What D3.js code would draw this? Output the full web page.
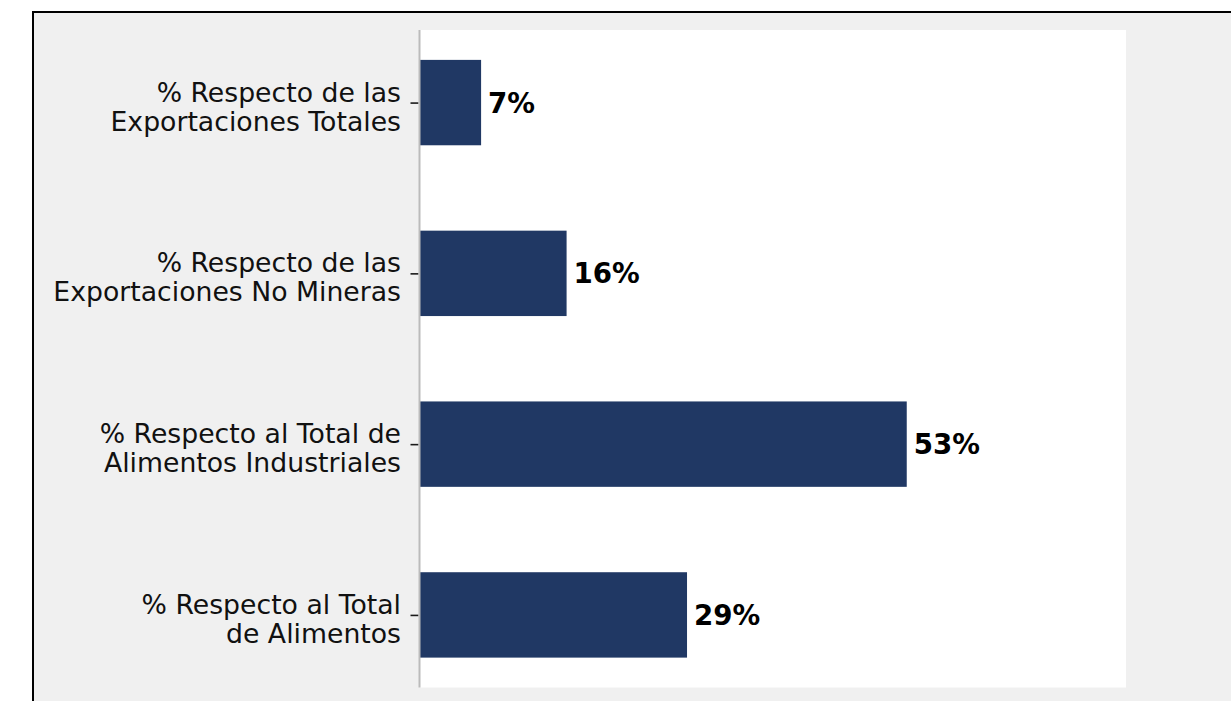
<!DOCTYPE html>
<html>
<head>
<meta charset="utf-8">
<script src="https://cdn.jsdelivr.net/npm/d3@7"></script>
<style>
  body { margin: 0; background: #fff; }
  svg { display: block; }
</style>
</head>
<body>
<svg width="1231" height="701"></svg>
<script>
// datos
var categoryLines = [
  ["% Respecto de las", "Exportaciones Totales"],
  ["% Respecto de las", "Exportaciones No Mineras"],
  ["% Respecto al Total de", "Alimentos Industriales"],
  ["% Respecto al Total", "de Alimentos"]
];
var values = [0.067, 0.16, 0.53, 0.291];
var valueLabels = ["7%", "16%", "53%", "29%"];

var svg = d3.select("svg");

// marco exterior
svg.append("rect")
  .attr("x", 33).attr("y", 12)
  .attr("width", 1240).attr("height", 720)
  .attr("fill", "#f0f0f0")
  .attr("stroke", "#000")
  .attr("stroke-width", 2);

var plot = { left: 419.5, right: 1126, top: 30, bottom: 687.5 };

var x = d3.scaleLinear()
  .domain([0, d3.max(values) * 1.45])
  .range([plot.left, plot.right]);

var y = d3.scaleLinear()
  .domain([-0.425, categoryLines.length - 1 + 0.425])
  .range([plot.top, plot.bottom]);

// fondo del area de trazado
svg.append("rect")
  .attr("x", plot.left).attr("y", plot.top)
  .attr("width", plot.right - plot.left)
  .attr("height", plot.bottom - plot.top)
  .attr("fill", "#fff");

// barras
svg.selectAll(".bar")
  .data(values)
  .enter().append("rect")
  .attr("class", "bar")
  .attr("x", x(0))
  .attr("y", function (d, i) { return y(i - 0.25); })
  .attr("width", function (d) { return x(d) - x(0); })
  .attr("height", function (d, i) { return y(i + 0.25) - y(i - 0.25); })
  .attr("fill", "#203864");

// etiquetas de valor
svg.selectAll(".val")
  .data(values)
  .enter().append("text")
  .attr("class", "val")
  .attr("x", function (d) { return x(d) + 7; })
  .attr("y", function (d, i) { return y(i) + 10; })
  .style("font-family", "DejaVu Sans")
  .style("font-weight", "bold")
  .style("font-size", "27.7px")
  .attr("fill", "#000")
  .text(function (d, i) { return valueLabels[i]; });

// eje Y
var yAxis = d3.axisLeft(y)
  .tickValues(d3.range(categoryLines.length))
  .tickSize(8)
  .tickPadding(10)
  .tickFormat("");

var gy = svg.append("g")
  .call(yAxis);

gy.select(".domain").remove();
gy.selectAll(".tick line")
  .attr("transform", "translate(" + (plot.left - 1) + ",0)")
  .attr("stroke", "#1a1a1a")
  .attr("stroke-width", 1.6);

svg.append("line")
  .attr("x1", plot.left).attr("x2", plot.left)
  .attr("y1", plot.top).attr("y2", plot.bottom)
  .attr("stroke", "#bbbbbb")
  .attr("stroke-width", 2);

gy.selectAll(".tick text").remove();
gy.selectAll(".tick").each(function (d) {
  var t = d3.select(this).append("text")
    .attr("text-anchor", "end")
    .attr("fill", "#111")
    .style("font-family", "DejaVu Sans")
    .style("font-size", "26.7px");
  t.append("tspan").attr("x", plot.left - 18.5).attr("y", -1.5).text(categoryLines[d][0]);
  t.append("tspan").attr("x", plot.left - 18.5).attr("y", 27.5).text(categoryLines[d][1]);
});
</script>
</body>
</html>
